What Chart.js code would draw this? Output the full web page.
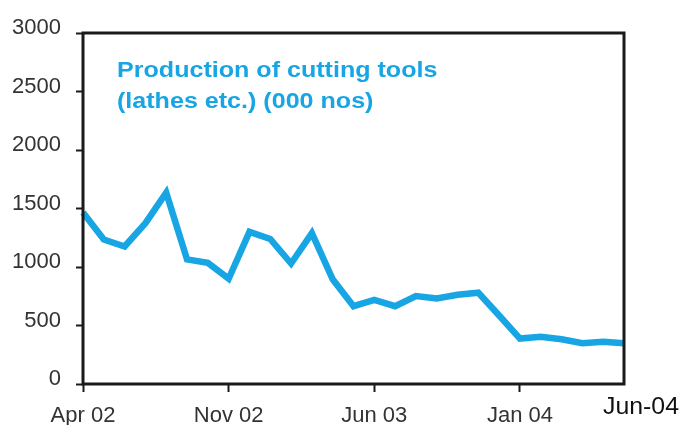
<!DOCTYPE html>
<html>
<head>
<meta charset="utf-8">
<script src="https://cdn.jsdelivr.net/npm/chart.js@4"></script>
<style>
  html, body { margin: 0; padding: 0; background: #fff; }
  #wrap { width: 682px; height: 425px; }
</style>
</head>
<body>
<div id="wrap"><canvas id="myChart" width="682" height="425"></canvas></div>
<script>
// monthly data, Apr 02 .. Jun 04
const months = [
  "Apr 02", "May 02", "Jun 02", "Jul 02", "Aug 02", "Sep 02", "Oct 02", "Nov 02", "Dec 02",
  "Jan 03", "Feb 03", "Mar 03", "Apr 03", "May 03", "Jun 03", "Jul 03", "Aug 03", "Sep 03",
  "Oct 03", "Nov 03", "Dec 03", "Jan 04", "Feb 04", "Mar 04", "Apr 04", "May 04", "Jun 04"
];
const production = [
  1465, 1235, 1175, 1375, 1635, 1065, 1035, 900, 1300,
  1240, 1030, 1290, 895, 665, 718, 665, 752, 732,
  762, 780, 585, 388, 403, 383, 348, 362, 348
];
const shownLabels = ["Apr 02", "Nov 02", "Jun 03", "Jan 04"];
const lastLabel = "Jun-04";
const titleLines = ["Production of cutting tools", "(lathes etc.) (000 nos)"];

const ctx = document.getElementById("myChart");
const blue = "#17a5e4";
const fontFam = "'Liberation Sans', Arial, sans-serif";

// frame around the plot + text inside it
const extras = {
  id: "extras",
  afterDraw(chart) {
    const { ctx: c, chartArea: a, scales } = chart;
    c.save();
    c.strokeStyle = "#1a1a1a";
    c.lineWidth = 3;
    c.strokeRect(a.left, a.top, a.right - a.left, a.bottom - a.top);

    // the original text is a bit wide, stretch it a little
    c.save();
    c.translate(117, 0);
    c.scale(1.14, 1);
    c.fillStyle = blue;
    c.font = "bold 22px " + fontFam;
    c.textBaseline = "alphabetic";
    c.fillText(titleLines[0], 0, 77);
    c.fillText(titleLines[1], 0, 108);
    c.restore();

    c.fillStyle = "#111";
    c.font = "23px " + fontFam;
    c.textAlign = "center";
    const x = scales.x.getPixelForValue(months.length - 1);
    c.translate(x + 17, 0);
    c.scale(1.08, 1);
    c.fillText(lastLabel, 0, 414);
    c.restore();
  }
};

new Chart(ctx, {
  type: "line",
  data: {
    labels: months,
    datasets: [{
      data: production,
      borderColor: blue,
      borderWidth: 6.5,
      pointRadius: 0,
      tension: 0,
      borderJoinStyle: "miter"
    }]
  },
  options: {
    responsive: false,
    animation: false,
    layout: { padding: { top: 33, right: 58, left: 0, bottom: 0 } },
    plugins: { legend: { display: false }, tooltip: { enabled: false } },
    scales: {
      x: {
        offset: false,
        border: { display: false },
        grid: {
          drawOnChartArea: false,
          tickLength: 8,
          tickWidth: 2,
          tickColor: (c) => shownLabels.includes(months[c.index]) ? "#1a1a1a" : "rgba(0,0,0,0)"
        },
        ticks: {
          autoSkip: false,
          maxRotation: 0,
          padding: 11,
          color: "#333",
          font: { family: fontFam, size: 22 },
          callback: (v, i) => shownLabels.includes(months[i]) ? months[i] : ""
        },
        afterFit: (s) => { s.height = 41; }
      },
      y: {
        min: 0,
        max: 3000,
        border: { display: false },
        grid: { drawOnChartArea: false, tickLength: 7, tickWidth: 2, tickColor: "#1a1a1a" },
        ticks: {
          stepSize: 500,
          padding: 15,
          labelOffset: -5,
          color: "#333",
          font: { family: fontFam, size: 22 },
          callback: (v) => String(v)
        },
        afterFit: (s) => { s.width = 83; }
      }
    }
  },
  plugins: [extras]
});
</script>
</body>
</html>
